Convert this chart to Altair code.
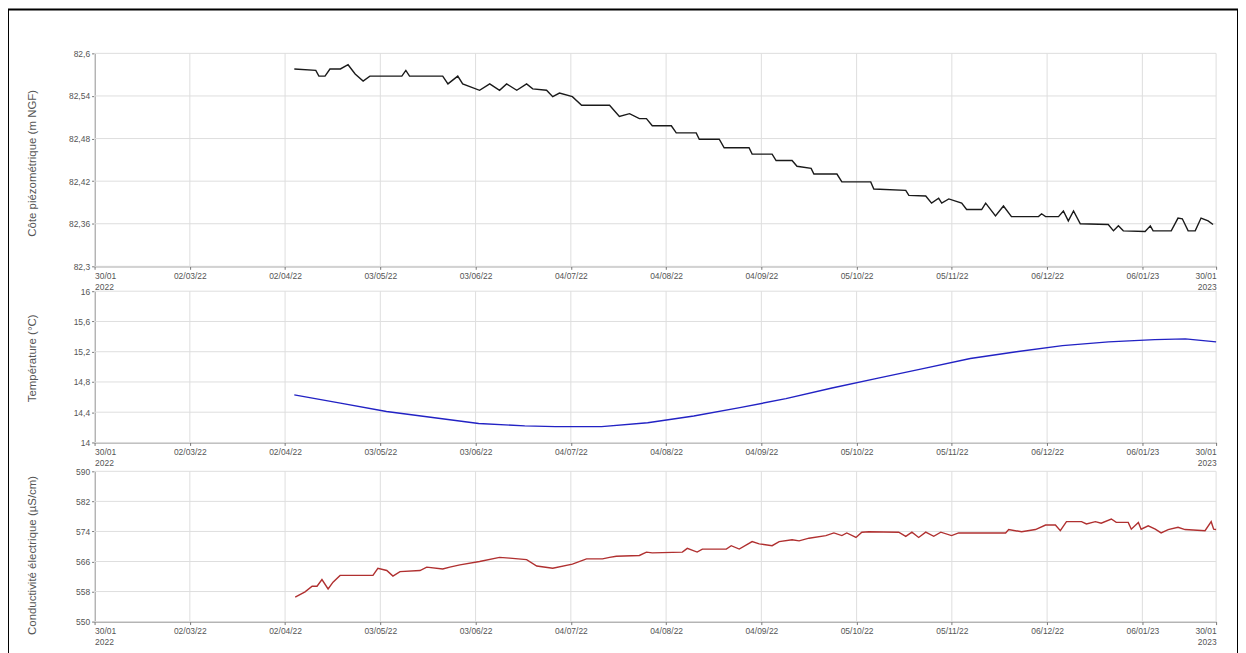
import altair as alt
import pandas as pd

START = "2022-01-30"
END = "2023-01-30"

# x tick dates
tick_dates = ["2022-01-30", "2022-03-02", "2022-04-02", "2022-05-03", "2022-06-03",
              "2022-07-04", "2022-08-04", "2022-09-04", "2022-10-05", "2022-11-05",
              "2022-12-06", "2023-01-06", "2023-01-30"]

# Panel 1: piezometric level (m NGF) - days since 2022-01-30
level_days = [65, 72, 73, 75, 76.6, 80, 82.5, 84.8, 87.4, 89.6, 100, 101.3, 102.5, 113.3, 115,
              118.2, 119.8, 125.3, 128.6, 131.8, 134.1, 137.4, 140.6, 142.6, 147.1, 149.1,
              151.3, 155.5, 158.5, 167.6, 170.8, 174.1, 177.3, 179.6, 181.5, 187.7, 189.3,
              195.8, 196.8, 203.3, 204.9, 213.0, 214.0, 220.5, 221.8, 227.0, 228.6, 233.2,
              234.1, 241.6, 243.2, 252.6, 253.6, 264.0, 265.0, 270.5, 272.4, 274.7, 275.7,
              278.0, 282.2, 283.8, 288.7, 290.0, 293.2, 295.8, 298.4, 307.2, 308.2, 309.5,
              313.7, 315.3, 316.9, 318.6, 320.8, 329.9, 331.6, 333.2, 334.8, 341.9, 343.6,
              344.5, 350.4, 352.6, 354.0, 355.9, 358.2, 360.1, 362.4, 364]
level_vals = [82.578, 82.576, 82.568, 82.568, 82.578, 82.578, 82.584, 82.571, 82.561, 82.568,
              82.568, 82.576, 82.568, 82.568, 82.557, 82.568, 82.557, 82.548, 82.557, 82.548,
              82.557, 82.548, 82.557, 82.550, 82.548, 82.539, 82.544, 82.539, 82.527, 82.527,
              82.511, 82.515, 82.508, 82.508, 82.498, 82.498, 82.488, 82.488, 82.479, 82.479,
              82.467, 82.467, 82.458, 82.458, 82.449, 82.449, 82.441, 82.438, 82.430, 82.430,
              82.419, 82.419, 82.409, 82.407, 82.400, 82.399, 82.389, 82.396, 82.389, 82.395,
              82.389, 82.380, 82.380, 82.389, 82.371, 82.385, 82.370, 82.370, 82.374, 82.370,
              82.370, 82.378, 82.364, 82.378, 82.360, 82.359, 82.350, 82.357, 82.350, 82.349,
              82.357, 82.350, 82.350, 82.368, 82.367, 82.350, 82.350, 82.368, 82.364, 82.359]

# Panel 2: temperature (°C)
temp_days = [65, 80, 95, 110, 125, 140, 150, 165, 180, 195, 210, 225, 240, 255, 270, 285,
             300, 315, 330, 345, 355, 365]
temp_vals = [14.63, 14.52, 14.41, 14.33, 14.25, 14.22, 14.21, 14.21, 14.26, 14.35, 14.46,
             14.58, 14.72, 14.85, 14.98, 15.11, 15.20, 15.28, 15.33, 15.36, 15.37, 15.33]

# Panel 3: electrical conductivity (µS/cm)
cond_days = [65.3, 68.5, 70.8, 72.4, 74.0, 76.0, 77.6, 79.9, 90.6, 92.2, 95.1, 97.1, 99.4,
             105.9, 108.1, 113.3, 115.6, 118.9, 125.3, 131.8, 135.1, 140.6, 143.9, 149.1,
             155.5, 160.1, 165.3, 167.6, 169.8, 177.3, 179.6, 181.5, 191.3, 192.9, 196.1,
             197.8, 205.6, 207.2, 209.8, 214.0, 216.3, 220.5, 222.8, 227.0, 229.3, 232.5,
             238.0, 240.6, 243.2, 244.8, 247.8, 249.7, 252.0, 261.7, 264.0, 266.0, 268.2,
             270.5, 273.1, 275.4, 278.9, 281.2, 296.5, 297.5, 301.7, 306.2, 309.5, 312.7,
             314.3, 316.3, 321.2, 322.8, 325.7, 327.6, 330.9, 332.5, 336.4, 337.4, 339.7,
             340.6, 342.9, 345.2, 347.1, 349.4, 352.6, 354.9, 361.4, 363.4, 364.2, 365]
cond_vals = [556.5, 557.9, 559.4, 559.4, 561.2, 558.7, 560.5, 562.3, 562.3, 564.2, 563.6,
             562.1, 563.3, 563.6, 564.5, 564.0, 564.5, 565.1, 566.0, 567.1, 566.9, 566.5,
             564.8, 564.2, 565.3, 566.7, 566.7, 567.1, 567.4, 567.6, 568.5, 568.3, 568.5,
             569.5, 568.5, 569.3, 569.3, 570.2, 569.3, 571.3, 570.7, 570.2, 571.3, 571.8,
             571.5, 572.2, 572.9, 573.6, 572.9, 573.6, 572.4, 573.8, 573.9, 573.8, 572.7,
             573.8, 572.4, 573.8, 572.7, 573.8, 572.9, 573.6, 573.6, 574.5, 573.9, 574.5,
             575.7, 575.7, 574.2, 576.6, 576.6, 576.0, 576.6, 576.2, 577.3, 576.4, 576.4,
             574.6, 576.4, 574.6, 575.5, 574.6, 573.6, 574.5, 575.1, 574.5, 574.2, 576.6,
             574.6, 574.5]

level_ticks = [82.3, 82.36, 82.42, 82.48, 82.54, 82.6]
temp_ticks = [14, 14.4, 14.8, 15.2, 15.6, 16]
cond_ticks = [550, 558, 566, 574, 582, 590]

t0 = pd.Timestamp(START)


def to_df(days, vals):
    return pd.DataFrame({"date": t0 + pd.to_timedelta(days, unit="D"), "value": vals})


def dt(s):
    d = pd.Timestamp(s)
    return alt.DateTime(year=d.year, month=d.month, date=d.day)


tick_dt = [dt(s) for s in tick_dates]
ticks_df = pd.DataFrame({"date": pd.to_datetime(tick_dates)})

X_LABEL = ("date(datum.value) == 30 && month(datum.value) == 0 ? "
           "[timeFormat(datum.value, '%d/%m'), timeFormat(datum.value, '%Y')] : "
           "timeFormat(datum.value, '%d/%m/%y')")
Y_LABEL = "replace(format(datum.value, '.4~r'), '.', ',')"

H = 650
GRID = "#dedede"
X0, X1 = 87, 1214


def panel(df, color, yticks, yrange, title, title_y):
    xscale = alt.Scale(domain=[dt(START), dt(END)], range=[X0, X1])
    yscale = alt.Scale(domain=[yticks[0], yticks[-1]], range=yrange, nice=False, zero=False)
    xaxis = alt.Axis(values=tick_dt, orient="bottom", offset=yrange[0] - H, labelExpr=X_LABEL,
                     grid=False, title=None, labelPadding=2, labelLineHeight=11)
    yaxis = alt.Axis(values=yticks, orient="left", offset=-X0, labelExpr=Y_LABEL, grid=False,
                     title=title, titleX=-57, titleY=title_y)
    hgrid = alt.Chart(pd.DataFrame({"value": yticks})).mark_rule(color=GRID, strokeWidth=1).encode(
        y=alt.Y("value:Q", scale=yscale, axis=yaxis),
        x=alt.X(datum=dt(START), type="temporal", scale=xscale, axis=xaxis),
        x2=alt.X2(datum=dt(END)),
    )
    vgrid = alt.Chart(ticks_df).mark_rule(color=GRID, strokeWidth=1).encode(
        x=alt.X("date:T", scale=xscale, axis=xaxis),
        y=alt.Y(datum=yticks[0], type="quantitative", scale=yscale, axis=yaxis),
        y2=alt.Y2(datum=yticks[-1]),
    )
    line = alt.Chart(df).mark_line(color=color, strokeWidth=1.4).encode(
        x=alt.X("date:T", scale=xscale, axis=xaxis),
        y=alt.Y("value:Q", scale=yscale, axis=yaxis),
    )
    return alt.layer(hgrid, vgrid, line)


p1 = panel(to_df(level_days, level_vals), "#1a1a1a", level_ticks, [258, 44],
           "Côte piézométrique (m NGF)", 154)
p2 = panel(to_df(temp_days, temp_vals), "#2222c4", temp_ticks, [435, 283],
           "Température (°C)", 350)
p3 = panel(to_df(cond_days, cond_vals), "#b03030", cond_ticks, [615, 464],
           "Conductivité électrique (µS/cm)", 548)

chart = (
    alt.layer(p1, p2, p3)
    .resolve_scale(x="independent", y="independent")
    .resolve_axis(x="independent", y="independent")
    .properties(width=1236, height=H, padding=0,
                autosize=alt.AutoSizeParams(type="none"), background="white")
    .configure_view(stroke="#000000", strokeWidth=2)
    .configure_axis(labelFont="Liberation Sans", labelFontSize=8.5, labelColor="#555555",
                    titleFont="Liberation Sans", titleFontSize=11.5, titleColor="#555555",
                    titleFontWeight="normal", domainColor="#777777", tickColor="#777777",
                    tickSize=3)
)

chart.save("out.html", embed_options={"renderer": "svg", "actions": False})
